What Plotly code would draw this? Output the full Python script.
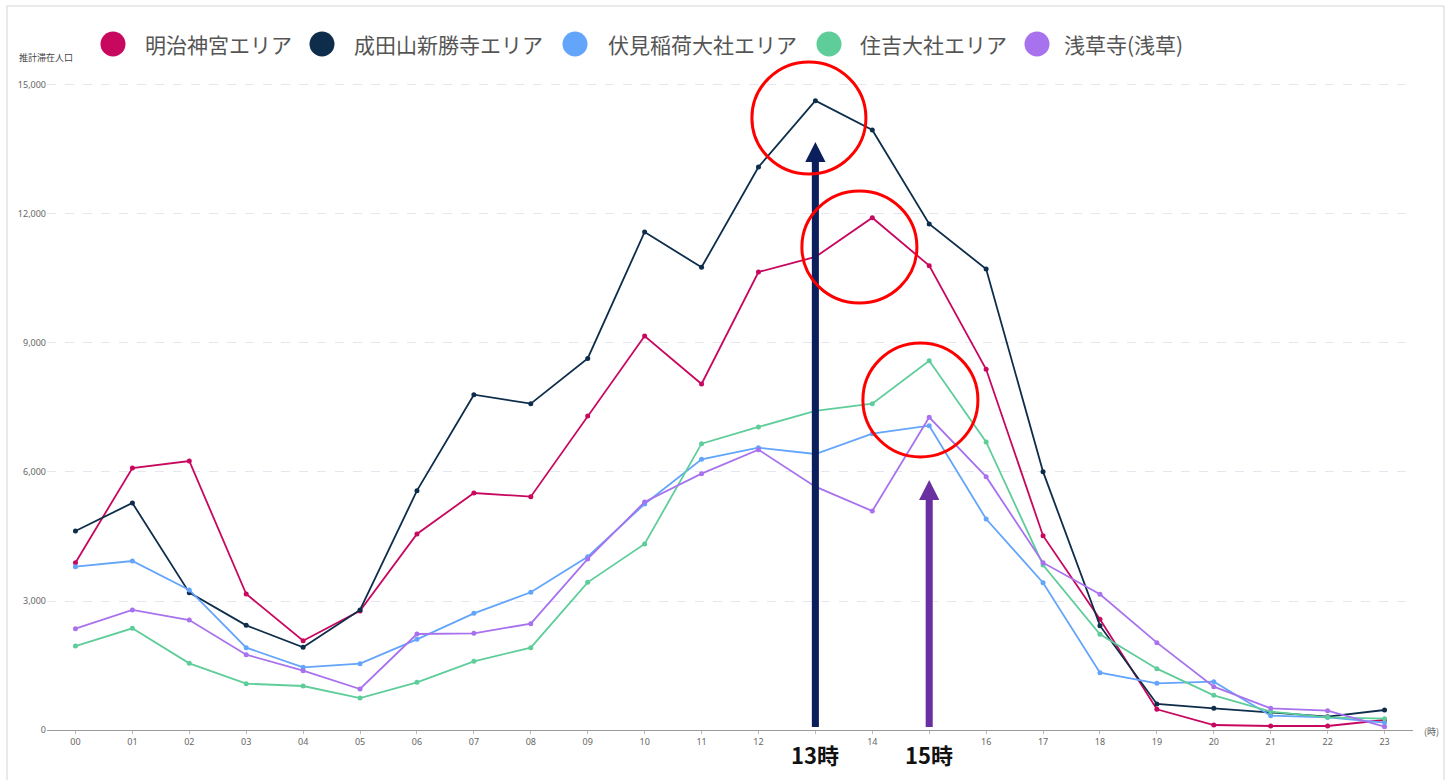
import plotly.graph_objects as go

hours = [f"{h:02d}" for h in range(24)]

series_names = ["明治神宮エリア", "成田山新勝寺エリア", "伏見稲荷大社エリア", "住吉大社エリア", "浅草寺(浅草)"]
series_colors = ["#C8075F", "#0E2D4B", "#63A5FA", "#5FCD9A", "#A872EE"]

meiji = [3890, 6093, 6256, 3163, 2077, 2770, 4558, 5512, 5426, 7302, 9163, 8047,
         10651, 11000, 11914, 10798, 8388, 4519, 2574, 481, 116, 93, 93, 233]
naritasan = [4628, 5279, 3194, 2434, 1923, 2791, 5566, 7798, 7589, 8640, 11581, 10760,
             13093, 14635, 13953, 11767, 10721, 6008, 2426, 605, 504, 403, 310, 465]
fushimi = [3798, 3930, 3256, 1915, 1457, 1543, 2109, 2713, 3202, 4031, 5256, 6295,
           6565, 6419, 6891, 7077, 4907, 3426, 1333, 1085, 1124, 333, 295, 171]
sumiyoshi = [1953, 2364, 1550, 1077, 1023, 744, 1109, 1597, 1915, 3434, 4326, 6659,
             7047, 7419, 7589, 8589, 6698, 3837, 2225, 1426, 806, 426, 295, 264]
sensoji = [2357, 2791, 2558, 1752, 1380, 953, 2233, 2248, 2473, 3977, 5302, 5961,
           6519, 5659, 5093, 7272, 5891, 3891, 3155, 2031, 1008, 504, 450, 78]

series_values = [meiji, naritasan, fushimi, sumiyoshi, sensoji]

y_ticks = [0, 3000, 6000, 9000, 12000, 15000]
y_title = "推計滞在人口"
x_unit = "(時)"
highlight_hours = [13, 15]
highlight_labels = ["13時", "15時"]
highlight_colors = ["#0B1F5C", "#6A2FA0"]

FONT_JP = "Noto Sans CJK JP"

fig = go.Figure()
xs = list(range(len(hours)))
for name, vals, col in zip(series_names, series_values, series_colors):
    fig.add_trace(go.Scatter(
        x=xs, y=vals, name=name, mode="lines+markers",
        line=dict(color=col, width=1.8),
        marker=dict(color=col, size=5),
        showlegend=False,
    ))

L, R, T, B = 47, 40, 60, 50
W, H = 1453, 780
pw, ph = W - L - R, H - T - B
YMAX = 15581


def px2paper(px, py):
    return (px - L) / pw, (H - B - py) / ph


shapes = []
annotations = []

# frame
fx0, fy0 = px2paper(7, 6)
fx1, fy1 = px2paper(1444, 800)
shapes.append(dict(type="rect", xref="paper", yref="paper", x0=fx0, y0=fy1, x1=fx1, y1=fy0,
                   line=dict(color="#d4d4d4", width=1), fillcolor="rgba(0,0,0,0)", layer="below"))

# custom legend
legend_circle_px = [113, 322, 575, 829, 1037]
legend_text_px = [143, 352, 606, 858, 1062]
for name, col, cx, tx in zip(series_names, series_colors, legend_circle_px, legend_text_px):
    px, py = px2paper(cx, 44)
    shapes.append(dict(type="circle", xref="paper", yref="paper", xsizemode="pixel", ysizemode="pixel",
                       xanchor=px, yanchor=py, x0=-12.5, x1=12.5, y0=-12.5, y1=12.5,
                       fillcolor=col, line=dict(color=col, width=0), layer="above"))
    tpx, tpy = px2paper(tx, 44)
    annotations.append(dict(text=name, xref="paper", yref="paper", x=tpx, y=tpy,
                            xanchor="left", yanchor="middle", showarrow=False,
                            font=dict(family=FONT_JP, size=21, color="#555555")))

# y-axis title
ax, ay = px2paper(46, 57)
annotations.append(dict(text=y_title, xref="paper", yref="paper", x=ax, y=ay, xanchor="center",
                        yanchor="middle", showarrow=False, font=dict(family=FONT_JP, size=9, color="#444444")))
# x unit
ux, uy = px2paper(1431, 731)
annotations.append(dict(text=x_unit, xref="paper", yref="paper", x=ux, y=uy, xanchor="center",
                        yanchor="middle", showarrow=False, font=dict(family=FONT_JP, size=9, color="#555555")))

# arrows
arrow_tips = [13674, 5814]
arrow_bases = [13209, 5349]
for h, lab, col, tip, base in zip(highlight_hours, highlight_labels, highlight_colors, arrow_tips, arrow_bases):
    shapes.append(dict(type="rect", xref="x", yref="y", x0=h - 0.062, x1=h + 0.062, y0=70, y1=base + 60,
                       fillcolor=col, line=dict(width=0), layer="above"))
    shapes.append(dict(type="path", xref="x", yref="y",
                       path=f"M {h-0.178},{base} L {h+0.178},{base} L {h},{tip} Z",
                       fillcolor=col, line=dict(width=0), layer="above"))
    _, ly = px2paper(0, 754)
    annotations.append(dict(text=f"<b>{lab}</b>", xref="x", yref="paper", x=h, y=ly,
                            xanchor="center", yanchor="middle", showarrow=False,
                            font=dict(family=FONT_JP, size=22, color="#111111")))

# red circles
circles = [(11.885, 13.888, 12930, 15535), (12.763, 14.784, 9930, 12535), (13.835, 15.856, 6349, 9000)]
for x0, x1, y0, y1 in circles:
    shapes.append(dict(type="circle", xref="x", yref="y", x0=x0, x1=x1, y0=y0, y1=y1,
                       line=dict(color="#FF0000", width=3), fillcolor="rgba(0,0,0,0)", layer="above"))

# tick labels: hours under the big highlight labels are hidden in the reference
tick_text = ["" if i in highlight_hours else hours[i] for i in xs]

fig.update_layout(
    width=W, height=H,
    margin=dict(l=L, r=R, t=T, b=B),
    paper_bgcolor="white", plot_bgcolor="white",
    font=dict(family="Noto Sans", color="#666666"),
    shapes=shapes, annotations=annotations,
    showlegend=False,
)
fig.update_xaxes(
    range=[-0.5, 23.5], tickmode="array", tickvals=xs, ticktext=tick_text,
    showgrid=False, zeroline=False, showline=True, linecolor="#9a9a9a", linewidth=1,
    ticks="outside", ticklen=3, tickcolor="#bbbbbb", tickfont=dict(size=9, color="#666666"),
)
fig.update_yaxes(
    range=[0, YMAX], tickmode="array", tickvals=y_ticks, tickformat=",",
    showgrid=True, gridcolor="#e4e7f0", griddash="dash", gridwidth=1,
    zeroline=False, showline=False, ticks="", tickfont=dict(size=9, color="#666666"),
)

fig.write_html("out.html")
